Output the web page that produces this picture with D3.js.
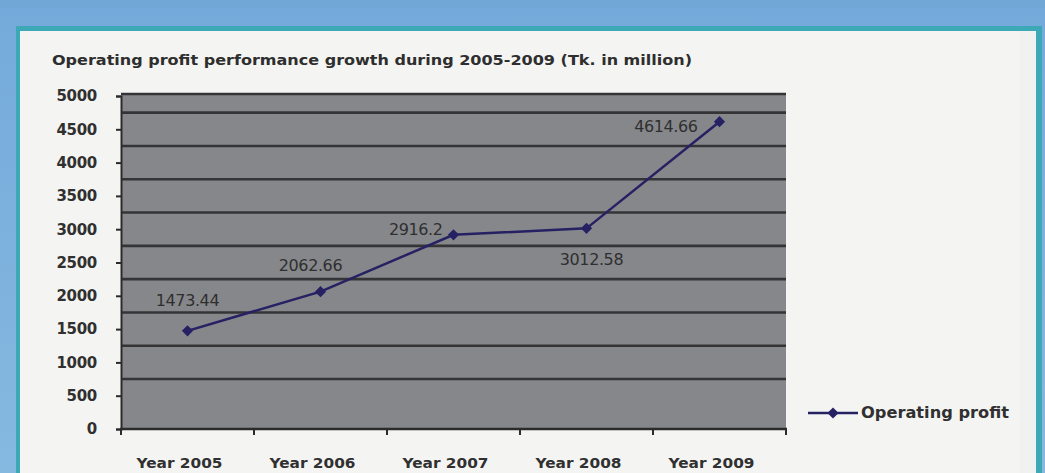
<!DOCTYPE html>
<html>
<head>
<meta charset="utf-8">
<script src="https://cdn.jsdelivr.net/npm/d3@7/dist/d3.min.js"></script>
<style>
  html, body { margin: 0; padding: 0; background: #7db3dd; }
  svg { display: block; }
  text { font-family: "DejaVu Sans", "Liberation Sans", sans-serif; }
</style>
</head>
<body>
<svg id="chart" width="1045" height="473"></svg>
<script>
// Operating profit, Tk. in million
const categories = ["Year 2005", "Year 2006", "Year 2007", "Year 2008", "Year 2009"];
const profit = [1473.44, 2062.66, 2916.2, 3012.58, 4614.66];
const yTicks = [0, 500, 1000, 1500, 2000, 2500, 3000, 3500, 4000, 4500, 5000];
const seriesName = "Operating profit";
const titleText = "Operating profit performance  growth  during 2005-2009  (Tk. in million)";
// where each value label sits relative to its point
const labelPlacement = ["above", "aboveLeft", "left", "below", "leftLow"];

const svg = d3.select("#chart");
const W = 1045, H = 473;

// ---- page frame ----
const defs = svg.append("defs");
const bg = defs.append("linearGradient").attr("id", "bannerGrad")
  .attr("x1", 0).attr("y1", 0).attr("x2", 0).attr("y2", 1);
bg.append("stop").attr("offset", "0%").attr("stop-color", "#74aadb");
bg.append("stop").attr("offset", "100%").attr("stop-color", "#86b9e0");

svg.append("rect").attr("width", W).attr("height", H).attr("fill", "url(#bannerGrad)");
svg.append("rect").attr("x", 0).attr("y", 0).attr("width", W).attr("height", 8).attr("fill", "#70a7d7");
// teal rule and panel edge
svg.append("rect").attr("x", 16).attr("y", 26).attr("width", 1026).attr("height", H)
  .attr("fill", "#3da8b6");
svg.append("rect").attr("x", 20).attr("y", 31).attr("width", 1016).attr("height", H)
  .attr("fill", "#f4f5f3");
svg.append("rect").attr("x", 1020).attr("y", 31).attr("width", 16).attr("height", H)
  .attr("fill", "#f0f2f1");

// ---- title ----
svg.append("text")
  .attr("x", 52).attr("y", 60)
  .attr("dominant-baseline", "central")
  .attr("font-size", 14).attr("font-weight", "bold").attr("fill", "#2e2e2e")
  .attr("textLength", 640).attr("lengthAdjust", "spacingAndGlyphs")
  .text(titleText);

// ---- scales ----
const plotL = 121, plotR = 786, plotT = 96, plotB = 429;
const x = d3.scaleBand().domain(categories).range([plotL, plotR]);
const y = d3.scaleLinear().domain([0, 5000]).range([plotB, plotT]);
const cx = d => x(d) + x.bandwidth() / 2;

// plot area
svg.append("rect").attr("x", plotL).attr("y", y(5000) - 3)
  .attr("width", plotR - plotL).attr("height", plotB - y(5000) + 3)
  .attr("fill", "#86878b");
svg.append("line").attr("x1", plotL).attr("x2", plotR)
  .attr("y1", y(5000) - 2).attr("y2", y(5000) - 2)
  .attr("stroke", "#343436").attr("stroke-width", 2.4);

// horizontal gridlines, drawn midway between the value ticks
const gridVals = d3.range(750, 5000, 500);
svg.append("g").selectAll("line").data(gridVals).join("line")
  .attr("x1", plotL).attr("x2", plotR)
  .attr("y1", d => y(d)).attr("y2", d => y(d))
  .attr("stroke", "#343436").attr("stroke-width", 2.6);

// ---- axes ----
const yAxis = svg.append("g").attr("transform", `translate(${plotL},0)`)
  .call(d3.axisLeft(y).tickValues(yTicks).tickSize(5).tickPadding(19).tickFormat(d3.format("d")));
yAxis.select(".domain").attr("stroke", "#2b2b2b").attr("stroke-width", 2);
yAxis.selectAll(".tick line").attr("stroke", "#2b2b2b").attr("stroke-width", 2);
yAxis.selectAll(".tick text")
  .attr("font-family", "DejaVu Sans, sans-serif")
  .attr("font-size", 15).attr("font-weight", "bold").attr("fill", "#303030")
  .attr("letter-spacing", -0.3);

const xAxis = svg.append("g").attr("transform", `translate(0,${plotB})`)
  .call(d3.axisBottom(x).tickSize(0).tickPadding(29));
xAxis.select(".domain").remove();
xAxis.selectAll(".tick text")
  .attr("font-family", "DejaVu Sans, sans-serif")
  .attr("font-size", 14).attr("font-weight", "bold").attr("fill", "#303030")
  .attr("dx", -8)
  .attr("textLength", 86).attr("lengthAdjust", "spacingAndGlyphs");
// category boundary ticks
const bounds = categories.map(c => x(c)).concat([plotR]);
svg.append("g").selectAll("line").data(bounds).join("line")
  .attr("x1", d => d).attr("x2", d => d)
  .attr("y1", plotB).attr("y2", plotB + 6)
  .attr("stroke", "#2b2b2b").attr("stroke-width", 2);
svg.append("line").attr("x1", plotL - 1).attr("x2", plotR + 1)
  .attr("y1", plotB).attr("y2", plotB)
  .attr("stroke", "#2b2b2b").attr("stroke-width", 2.5);

// ---- series ----
const lineColor = "#262163";
const line = d3.line().x((d, i) => cx(categories[i])).y(d => y(d));
svg.append("path").datum(profit)
  .attr("d", line).attr("fill", "none")
  .attr("stroke", lineColor).attr("stroke-width", 2.5);

const diamond = d3.symbol().type(d3.symbolDiamond2).size(80);
svg.append("g").selectAll("path").data(profit).join("path")
  .attr("d", diamond)
  .attr("transform", (d, i) => `translate(${cx(categories[i])},${y(d)})`)
  .attr("fill", lineColor);

// value labels
const offsets = {
  above:     { dx: 0,   dy: -30, anchor: "middle" },
  aboveLeft: { dx: -10, dy: -26, anchor: "middle" },
  left:      { dx: -11, dy: -5,  anchor: "end" },
  leftLow:   { dx: -22, dy: 5,   anchor: "end" },
  below:     { dx: 5,   dy: 31,  anchor: "middle" }
};
svg.append("g").selectAll("text").data(profit).join("text")
  .each(function (d, i) {
    const o = offsets[labelPlacement[i]];
    d3.select(this)
      .attr("x", cx(categories[i]) + o.dx)
      .attr("y", y(d) + o.dy)
      .attr("text-anchor", o.anchor);
  })
  .attr("dominant-baseline", "central")
  .attr("font-size", 16).attr("fill", "#2f2f2f")
  .attr("letter-spacing", -0.4)
  .text(d => String(d));

// ---- legend ----
const lg = svg.append("g");
lg.append("line").attr("x1", 808).attr("x2", 858).attr("y1", 413).attr("y2", 413)
  .attr("stroke", lineColor).attr("stroke-width", 2.5);
lg.append("path").attr("d", diamond).attr("transform", "translate(833,413)").attr("fill", lineColor);
lg.append("text").attr("x", 861).attr("y", 413)
  .attr("dominant-baseline", "central")
  .attr("font-size", 15).attr("font-weight", "bold").attr("fill", "#303030")
  .attr("textLength", 148).attr("lengthAdjust", "spacingAndGlyphs")
  .text(seriesName);
</script>
</body>
</html>
